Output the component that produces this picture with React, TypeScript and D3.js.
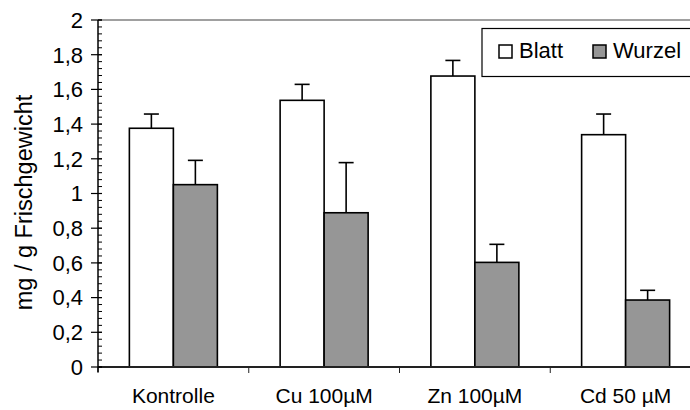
import React, { useEffect } from 'react';
import * as d3 from 'd3';

// Chart data
const categories = ['Kontrolle', 'Cu 100µM', 'Zn 100µM', 'Cd 50 µM'];
const seriesNames = ['Blatt', 'Wurzel'];
const blatt = [1.376, 1.537, 1.677, 1.339];
const blattErr = [0.082, 0.092, 0.09, 0.119];
const wurzel = [1.051, 0.889, 0.603, 0.386];
const wurzelErr = [0.14, 0.289, 0.104, 0.056];
const yTicks = [0, 0.2, 0.4, 0.6, 0.8, 1, 1.2, 1.4, 1.6, 1.8, 2];

const W = 690;
const H = 410;
const margin = { left: 98, top: 20, right: -11, bottom: 43 };
const font = '"Liberation Sans", Arial, sans-serif';
const fills = ['#ffffff', '#969696'];

export default function App() {
  useEffect(() => {
    document.body.style.margin = '0';
  }, []);

  const x = d3
    .scaleBand()
    .domain(categories)
    .range([margin.left, W - margin.right])
    .padding(0);
  const xSub = d3
    .scaleBand()
    .domain(seriesNames)
    .range([0, x.bandwidth()])
    .paddingInner(0)
    .paddingOuter(0.713);
  const y = d3.scaleLinear().domain([0, 2]).range([H - margin.bottom, margin.top]);

  const minorTicks = d3.range(0, 2.0001, 0.04).map((v) => +v.toFixed(2));
  const fmt = (v) => String(+v.toFixed(1)).replace('.', ',');

  const rows = categories.map((c, i) => ({
    cat: c,
    vals: [
      { s: seriesNames[0], v: blatt[i], e: blattErr[i] },
      { s: seriesNames[1], v: wurzel[i], e: wurzelErr[i] },
    ],
  }));

  const x0 = margin.left;
  const yBase = y(0);
  const capW = 15;

  return (
    <svg width={W} height={H} style={{ display: 'block', fontFamily: font }}>
      <rect x={0} y={0} width={W} height={H} fill="#ffffff" />
      {/* plot frame top */}
      <line x1={x0} x2={W} y1={y(2)} y2={y(2)} stroke="#a0a0a0" strokeWidth={2} />

      {/* bars + error bars */}
      {rows.map((r) => (
        <g key={r.cat} transform={`translate(${x(r.cat)},0)`}>
          {r.vals.map((d, j) => {
            const bx = xSub(d.s);
            const bw = xSub.bandwidth();
            const cx = bx + bw / 2;
            return (
              <g key={d.s}>
                <line x1={cx} x2={cx} y1={y(d.v)} y2={y(d.v + d.e)} stroke="#000" strokeWidth={1.6} />
                <line x1={cx - capW / 2} x2={cx + capW / 2} y1={y(d.v + d.e)} y2={y(d.v + d.e)} stroke="#000" strokeWidth={1.6} />
                <rect x={bx} y={y(d.v)} width={bw} height={yBase - y(d.v)} fill={fills[j]} stroke="#000" strokeWidth={1.6} />
              </g>
            );
          })}
        </g>
      ))}

      {/* x axis */}
      <line x1={x0} x2={W} y1={yBase} y2={yBase} stroke="#222" strokeWidth={2} />
      {categories.map((c) => (
        <line key={c} x1={x(c)} x2={x(c)} y1={yBase} y2={yBase + 6} stroke="#222" strokeWidth={1} />
      ))}
      {categories.map((c) => (
        <text key={c} x={x(c) + x.bandwidth() / 2} y={403} textAnchor="middle" fontSize={21} fill="#000">
          {c}
        </text>
      ))}

      {/* y axis */}
      <line x1={x0} x2={x0} y1={y(2)} y2={yBase + 5} stroke="#000" strokeWidth={1.5} />
      {minorTicks.map((v) => (
        <line key={'m' + v} x1={x0} x2={x0 + 4} y1={y(v)} y2={y(v)} stroke="#000" strokeWidth={1} />
      ))}
      {yTicks.map((v) => (
        <g key={v}>
          <line x1={x0 - 7} x2={x0 + 4} y1={y(v)} y2={y(v)} stroke="#000" strokeWidth={1.2} />
          <text x={83} y={y(v) + 7.8} textAnchor="end" fontSize={22} fill="#000">
            {fmt(v)}
          </text>
        </g>
      ))}
      <text
        transform={`translate(32,${(92 + 313) / 2}) rotate(-90)`}
        textAnchor="middle"
        fontSize={23.5}
        fill="#000"
      >
        mg / g Frischgewicht
      </text>

      {/* legend */}
      <rect x={482} y={28.5} width={230} height={48} fill="#fff" stroke="#000" strokeWidth={1.2} />
      {seriesNames.map((s, i) => {
        const lx = [499, 593][i];
        return (
          <g key={s}>
            <rect x={lx} y={45} width={13} height={13} fill={fills[i]} stroke="#000" strokeWidth={1.5} />
            <text x={lx + 20} y={58} fontSize={22} fill="#000">
              {s}
            </text>
          </g>
        );
      })}
    </svg>
  );
}
